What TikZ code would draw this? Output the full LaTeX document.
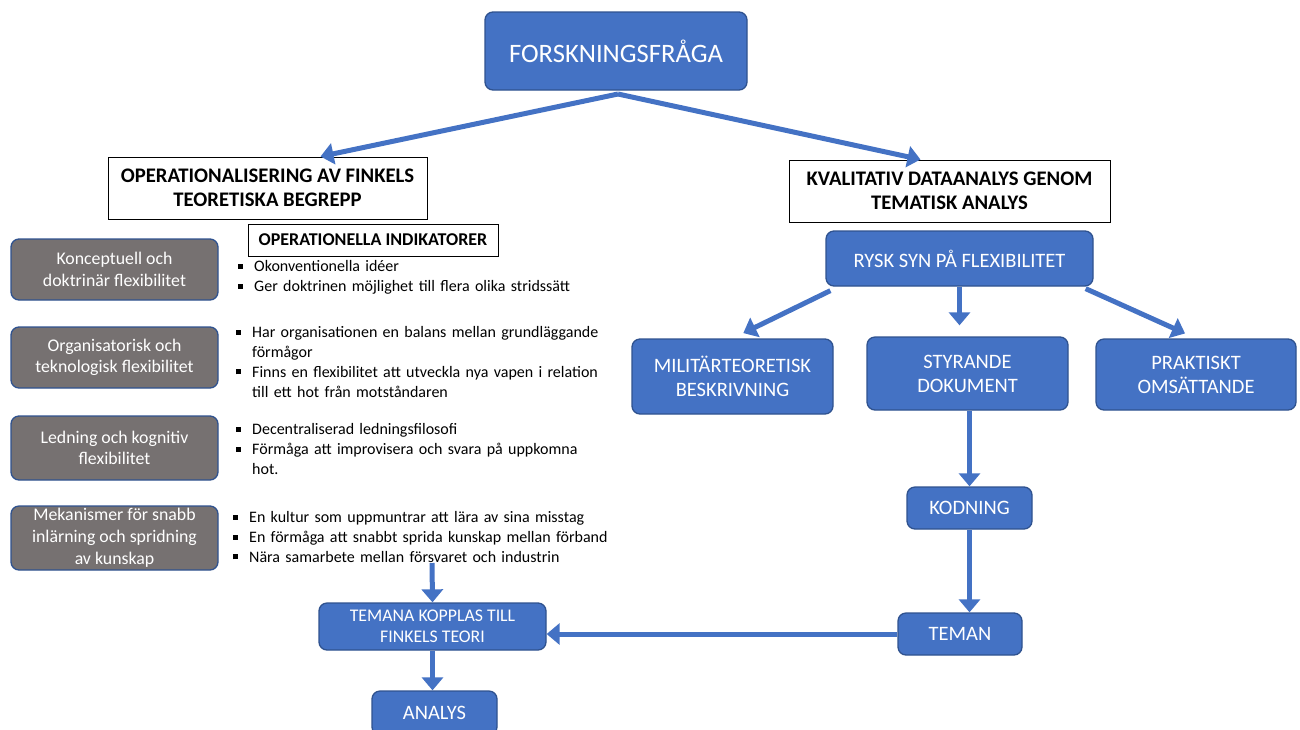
\documentclass[tikz,border=0pt]{standalone}
\usepackage{fontspec}
\setmainfont{Carlito}
\usepackage{tikz}
\usetikzlibrary{arrows.meta,calc}
\definecolor{blaa}{HTML}{4472C4}
\definecolor{kant}{HTML}{2F528F}
\definecolor{graa}{HTML}{767171}
\newcommand{\kvad}{\rule[3pt]{5pt}{5pt}}
\newcommand{\pkt}[1]{\par\noindent\makebox[16pt][l]{\kvad}\parbox[t]{390pt}{\raggedright\fontsize{16}{19.7}\selectfont #1\par\xdef\sistadj{\the\prevdepth}}\par\prevdepth=\sistadj\relax}

\begin{document}
\begin{tikzpicture}[x=1pt,y=-1pt,
blok/.style={rectangle, rounded corners=8pt, draw=kant, line width=1.3pt, fill=blaa, text=white, align=center, inner sep=0pt, font=\fontsize{20.5}{24}\selectfont},
graaruta/.style={rectangle, rounded corners=8pt, draw=kant, line width=1.3pt, fill=graa, text=white, align=center, inner sep=0pt, minimum width=207pt, font=\fontsize{17.8}{21.5}\selectfont},
rubrik/.style={rectangle, draw=black, line width=1pt, fill=white, align=center, inner sep=0pt, font=\bfseries\fontsize{20.7}{24.5}\selectfont},
lista/.style={anchor=north west, inner sep=0pt, text width=420pt, align=left, font=\fontsize{16}{19.7}\selectfont},
pil/.style={draw=blaa, line width=5pt, -{Triangle[length=13pt,width=21pt]}},
]

\useasboundingbox (0,0) rectangle (1300,729);
%\draw[help lines,yellow,thin] (0,0) grid[step=50] (1300,729);

\node [blok, minimum width=262pt, minimum height=78pt, font=\fontsize{26.6}{30}\selectfont] (fraga) at (616,51) {FORSKNINGSFRÅGA};

\node [rubrik, minimum width=319pt, minimum height=62pt] (oper) at (267.5,188) {OPERATIONALISERING AV FINKELS\\TEORETISKA BEGREPP};
\node [rubrik, minimum width=321pt, minimum height=62pt] (kval) at (949.5,191) {KVALITATIV DATAANALYS GENOM\\TEMATISK ANALYS};
\node [rubrik, minimum width=250pt, minimum height=32pt, font=\bfseries\fontsize{18}{20}\selectfont] (ind) at (373,240) {OPERATIONELLA INDIKATORER};

\node [graaruta, minimum height=61pt] (g1) at (114.5,269.5) {Konceptuell och\\doktrinär flexibilitet};
\node [graaruta, minimum height=61pt] (g2) at (114.5,357.5) {Organisatorisk och\\teknologisk flexibilitet};
\node [graaruta, minimum height=64pt] (g3) at (114.5,448) {Ledning och kognitiv\\flexibilitet};
\node [graaruta, minimum height=64pt, font=\fontsize{17.8}{22}\selectfont] (g4) at (114.5,538) {Mekanismer för snabb\\inlärning och spridning\\av kunskap};

\node [lista] (l1) at (238,252) {\pkt{Okonventionella idéer}\pkt{Ger doktrinen möjlighet till flera olika stridssätt}};
\node [lista] (l2) at (236,318) {\pkt{Har organisationen en balans mellan grundläggande\\förmågor}\pkt{Finns en flexibilitet att utveckla nya vapen i relation\\till ett hot från motståndaren}};
\node [lista] (l3) at (236,415) {\pkt{Decentraliserad ledningsfilosofi}\pkt{Förmåga att improvisera och svara på uppkomna\\hot.}};
\node [lista] (l4) at (233,503) {\pkt{En kultur som uppmuntrar att lära av sina misstag}\pkt{En förmåga att snabbt sprida kunskap mellan förband}\pkt{Nära samarbete mellan försvaret och industrin}};

\node [blok, minimum width=267pt, minimum height=55pt] (rysk) at (959.5,258.5) {RYSK SYN PÅ FLEXIBILITET};
\node [blok, minimum width=201pt, minimum height=75pt] (mil) at (732.5,376.5) {MILITÄRTEORETISK\\BESKRIVNING};
\node [blok, minimum width=201pt, minimum height=73pt] (sty) at (967.5,373.5) {STYRANDE\\DOKUMENT};
\node [blok, minimum width=200pt, minimum height=71pt] (prak) at (1196,374.5) {PRAKTISKT\\OMSÄTTANDE};
\node [blok, minimum width=125pt, minimum height=42pt] (kod) at (969.5,508) {KODNING};
\node [blok, minimum width=124pt, minimum height=42pt] (tem) at (960,634) {TEMAN};
\node [blok, minimum width=227pt, minimum height=47pt, font=\fontsize{17.8}{21}\selectfont] (koppl) at (432.5,626.5) {TEMANA KOPPLAS TILL\\FINKELS TEORI};
\node [blok, minimum width=125pt, minimum height=44pt] (analys) at (434.5,713) {ANALYS};

\coordinate (topp) at (618,94);
\coordinate (start4) at (432,563);

\draw [pil] (topp) -- ($(oper.north)+(53,0)$);
\draw [pil] (topp) -- ($(kval.north)+(-29,0)$);
\draw [pil, shorten >=12pt] ($(rysk.south west)+(5,4)$) -- (mil.north);
\draw [pil] (rysk.south) -- ($(rysk.south |- sty.north)+(0,-11)$);
\draw [pil, shorten >=12pt] ($(rysk.south east)+(-8,2)$) -- (prak.north);
\draw [pil] (kod.north |- sty.south) -- (kod.north);
\draw [pil] (kod.south) -- (kod.south |- tem.north);
\draw [pil] (tem.west) -- (tem.west -| koppl.east);
\draw [pil] (start4) -- (koppl.north);
\draw [pil] (koppl.south) -- (koppl.south |- analys.north);
\end{tikzpicture}
\end{document}
